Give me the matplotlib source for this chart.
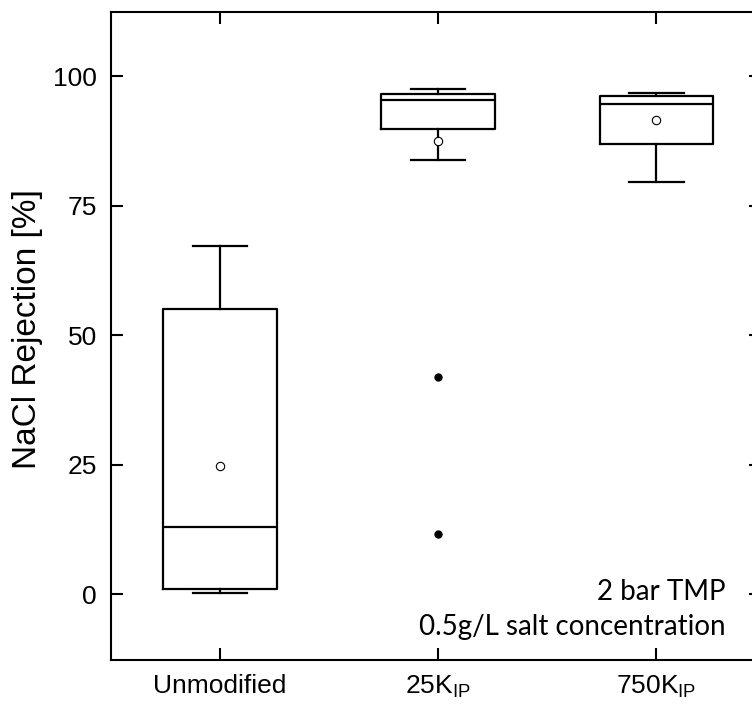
import matplotlib
matplotlib.use("Agg")
from matplotlib import pyplot as plt

# Data
labels = ["Unmodified", r"25K$_{\rm IP}$", r"750K$_{\rm IP}$"]
whisker_low = [0.3, 83.8, 79.5]
q1 = [1.0, 89.9, 87.0]
median = [12.9, 95.4, 94.7]
q3 = [55.0, 96.5, 96.1]
whisker_high = [67.2, 97.6, 96.8]
means = [24.7, 87.5, 91.5]
outliers = [[], [41.9, 11.6], []]

plt.rcParams["font.family"] = ["Liberation Sans", "DejaVu Sans"]
plt.rcParams["mathtext.fontset"] = "custom"
plt.rcParams["mathtext.rm"] = "Liberation Sans"
plt.rcParams["mathtext.it"] = "Liberation Sans"

stats = []
for i in range(len(labels)):
    stats.append({
        "label": labels[i],
        "whislo": whisker_low[i],
        "q1": q1[i],
        "med": median[i],
        "q3": q3[i],
        "whishi": whisker_high[i],
        "mean": means[i],
        "fliers": outliers[i],
    })

fig = plt.figure(figsize=(7.52, 7.08), dpi=100)
ax = fig.add_axes([111 / 752, 48 / 708, 650 / 752, 648 / 708])

line = dict(color="black", linewidth=1.6)
ax.bxp(stats, positions=[1, 2, 3], widths=0.52, capwidths=0.25,
       showmeans=True, showfliers=True,
       boxprops=line, whiskerprops=line, capprops=line, medianprops=line,
       meanprops=dict(marker="o", markerfacecolor="white", markeredgecolor="black",
                      markersize=6, markeredgewidth=0.8),
       flierprops=dict(marker="o", markerfacecolor="black", markeredgecolor="black",
                       markersize=5))

ax.set_xlim(0.5, 3.48)
ax.set_ylim(-12.7, 112.4)
ax.set_yticks([0, 25, 50, 75, 100])
ax.set_ylabel("NaCl Rejection [%]", fontsize=24)
ax.yaxis.set_label_coords(-0.104, 0.51)
ax.tick_params(axis="both", which="both", direction="in", length=8.6, width=1.5,
               labelsize=19, top=True, right=True, pad=10)
for s in ax.spines.values():
    s.set_linewidth(1.5)

note_font = ["Lato", "DejaVu Sans"]
ax.text(3.32, -1.2, "2 bar TMP", fontsize=20, family=note_font,
        ha="right", va="baseline")
ax.text(3.32, -7.9, "0.5g/L salt concentration", fontsize=20,
        family=note_font, ha="right", va="baseline")

fig.savefig("out.png", dpi=100)
